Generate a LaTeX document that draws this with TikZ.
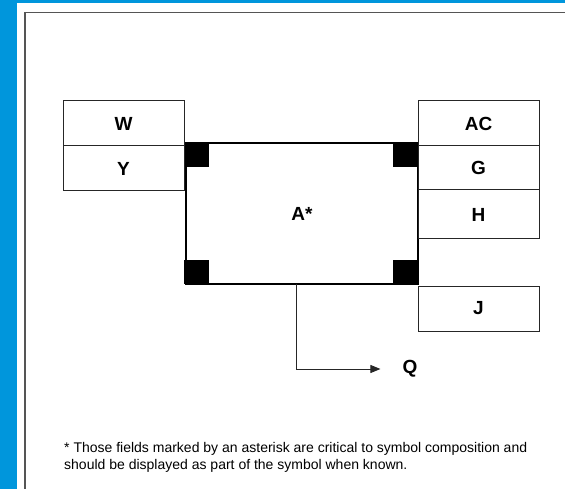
\documentclass[tikz,border=0pt]{standalone}
\usepackage{fontspec}
\setmainfont{Liberation Sans}
\usetikzlibrary{arrows.meta}
\definecolor{bgblue}{RGB}{0,150,220}
\definecolor{framegray}{RGB}{85,85,85}
\tikzset{
  field/.style={draw=black!85, line width=1pt, minimum width=121pt, minimum height=45pt, inner sep=0pt, font=\bfseries\fontsize{19}{19}\selectfont},
  corner/.style={fill=black, minimum width=25pt, minimum height=24pt, inner sep=0pt, anchor=center},
  mainbox/.style={draw=black, line width=2pt, minimum width=232pt, minimum height=141pt, inner sep=0pt, font=\bfseries\fontsize{19}{19}\selectfont},
  lbl/.style={font=\bfseries\fontsize{19}{19}\selectfont, inner sep=0pt},
  conn/.style={draw=black!85, line width=1pt, -{Triangle[length=10pt,width=8pt]}}
}
\begin{document}
\begin{tikzpicture}[x=1pt,y=-1pt]
\useasboundingbox (0,0) rectangle (565,489);
\clip (0,0) rectangle (565,489);
\fill[bgblue] (0,0) rectangle (565,489);
\fill[white] (17,3) rectangle (570,495);
\draw[framegray, line width=1.5pt] (25,600) -- (25,12.5) -- (600,12.5);
% main box
\node[mainbox] (a) at (302,213.5) {A*};
% corner squares
\node[corner] (c1) at (196.5,155) {};
\node[corner] (c2) at (196.5,272) {};
\node[corner] (c3) at (405,155) {};
\node[corner] (c4) at (405,272) {};
% left fields
\node[field] (w) at (123.5,123.5) {W};
\node[field] (y) at (123.5,168.5) {Y};
% right fields
\node[field] (ac) at (478.5,123.5) {AC};
\node[field, minimum height=44pt] (g) at (478.5,168) {G};
\node[field, minimum height=49pt] (h) at (478.5,214.5) {H};
\node[field] (j) at (478.5,308.5) {J};
% Q connector
\node[lbl] (q) at (410,369) {Q};
\coordinate (qs) at (296,284);
\draw[conn, shorten >=22pt] (qs) |- (q);
% footnote
\node[anchor=north west, inner sep=0pt, align=left, font=\fontsize{14}{17}\selectfont] (note) at (64,442) {* Those fields marked by an asterisk are critical to symbol composition and\\should be displayed as part of the symbol when known.};
\end{tikzpicture}
\end{document}
